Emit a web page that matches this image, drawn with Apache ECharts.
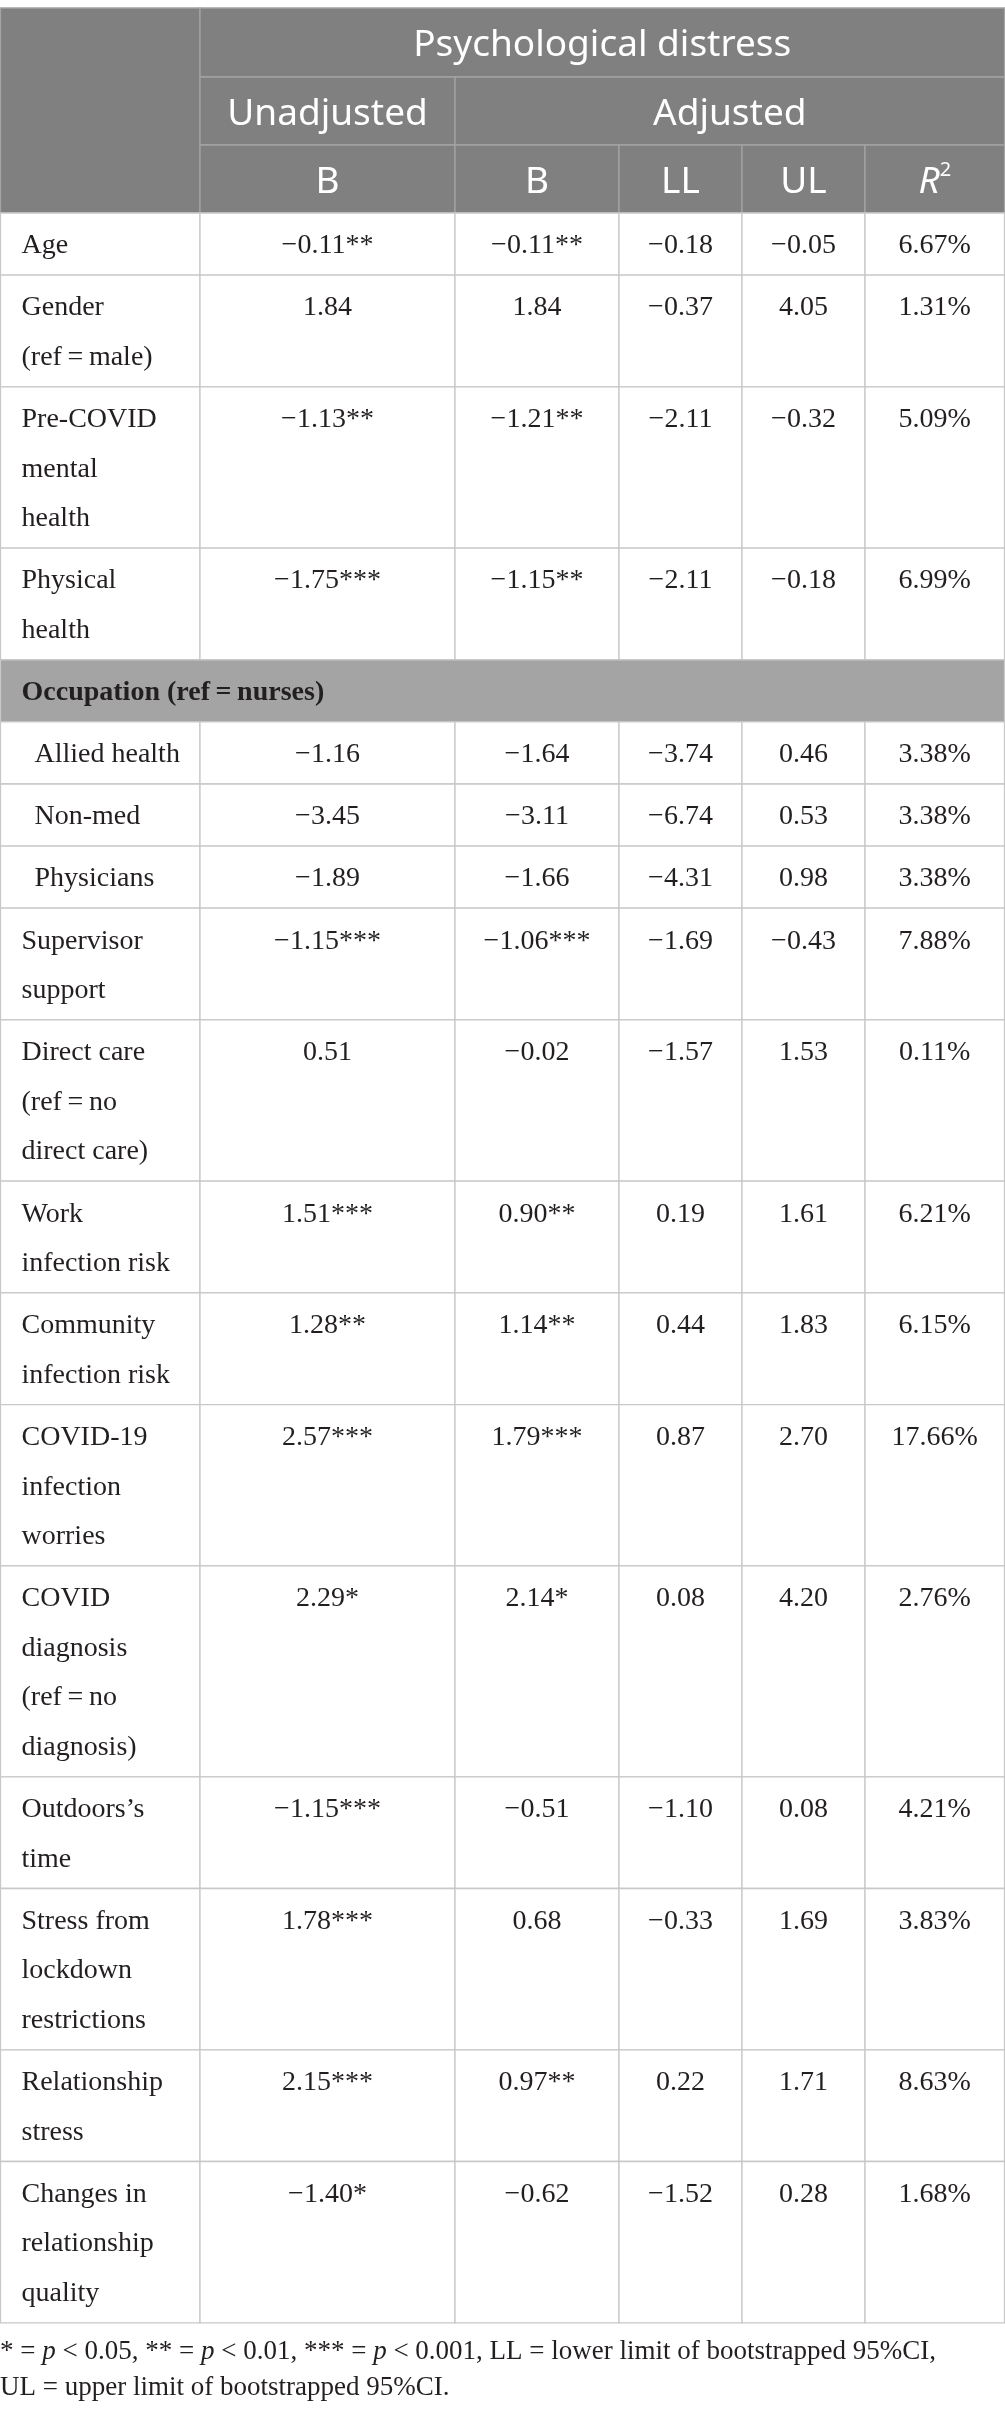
<!DOCTYPE html>
<html>
<head>
<meta charset="utf-8">
<script src="https://cdn.jsdelivr.net/npm/echarts@6/dist/echarts.min.js"></script>
<style>
html, body { margin: 0; padding: 0; background: #fff; }
#table { width: 1005px; height: 2417px; }
</style>
</head>
<body>
<div id="table"></div>
<script>
// ---- table content ----
var headTitle = 'Psychological distress';
var headGroups = ['Unadjusted', 'Adjusted'];
var headCols = ['B', 'B', 'LL', 'UL', '{it|R}{sup|2}'];

var rowLabels = [
    ['Age'],
    ['Gender', '(ref\u2009=\u2009male)'],
    ['Pre-COVID', 'mental', 'health'],
    ['Physical', 'health'],
    ['Occupation (ref\u2009=\u2009nurses)'],
    ['Allied health'],
    ['Non-med'],
    ['Physicians'],
    ['Supervisor', 'support'],
    ['Direct care', '(ref\u2009=\u2009no', 'direct care)'],
    ['Work', 'infection risk'],
    ['Community', 'infection risk'],
    ['COVID-19', 'infection', 'worries'],
    ['COVID', 'diagnosis', '(ref\u2009=\u2009no', 'diagnosis)'],
    ['Outdoors\u2019s', 'time'],
    ['Stress from', 'lockdown', 'restrictions'],
    ['Relationship', 'stress'],
    ['Changes in', 'relationship', 'quality']
];
// item / group / sub
var rowKind = ['item', 'item', 'item', 'item', 'group', 'sub', 'sub', 'sub',
    'item', 'item', 'item', 'item', 'item', 'item', 'item', 'item', 'item', 'item'];

var unadjB   = [-0.11, 1.84, -1.13, -1.75, null, -1.16, -3.45, -1.89, -1.15, 0.51, 1.51, 1.28, 2.57, 2.29, -1.15, 1.78, 2.15, -1.40];
var unadjSig = ['**', '', '**', '***', '', '', '', '', '***', '', '***', '**', '***', '*', '***', '***', '***', '*'];
var adjB     = [-0.11, 1.84, -1.21, -1.15, null, -1.64, -3.11, -1.66, -1.06, -0.02, 0.90, 1.14, 1.79, 2.14, -0.51, 0.68, 0.97, -0.62];
var adjSig   = ['**', '', '**', '**', '', '', '', '', '***', '', '**', '**', '***', '*', '', '', '**', ''];
var lowerCI  = [-0.18, -0.37, -2.11, -2.11, null, -3.74, -6.74, -4.31, -1.69, -1.57, 0.19, 0.44, 0.87, 0.08, -1.10, -0.33, 0.22, -1.52];
var upperCI  = [-0.05, 4.05, -0.32, -0.18, null, 0.46, 0.53, 0.98, -0.43, 1.53, 1.61, 1.83, 2.70, 4.20, 0.08, 1.69, 1.71, 0.28];
var rSquared = [6.67, 1.31, 5.09, 6.99, null, 3.38, 3.38, 3.38, 7.88, 0.11, 6.21, 6.15, 17.66, 2.76, 4.21, 3.83, 8.63, 1.68];

var footLines = [
    '* = {i|p} < 0.05, ** = {i|p} < 0.01, *** = {i|p} < 0.001, LL = lower limit of bootstrapped 95%CI,',
    'UL = upper limit of bootstrapped 95%CI.'
];

// ---- layout ----
var W = 1005, H = 2417;
var colEdges = [0.5, 200, 455, 619, 742, 865, 1004.5];
var tableTop = 8;
var headRowH = [69, 68, 68];
var headShift = 3;
var lineH = 49.6;
var rowPad = 12.5;
var textTop = 8.2;
var labelLeft = 21;
var subIndent = 34;

var headFill = '#7f807f', headLine = '#a3a3a3';
var groupFill = '#a3a4a3';
var bodyLine = '#c8c8c8';
var ink = '#231f20';
var sansFont = '"Noto Sans", "Open Sans", sans-serif';
var serifFont = '"Liberation Serif", "DejaVu Serif", serif';

function num(v) {
    return (v < 0 ? '\u2212' : '') + Math.abs(v).toFixed(2);
}

// build the cells
var cells = [];
var meta = [];
function addCell(c0, c1, y0, y1, m) {
    cells.push([colEdges[c0], y0, colEdges[c1], y1]);
    meta.push(m);
}

var hy = [tableTop];
headRowH.forEach(function (h, i) { hy.push(hy[i] + h); });
var headStyle = { fill: headFill, stroke: headLine, color: '#fff', font: sansFont, size: 37, align: 'center', valign: 'middle' };
function head(text) {
    return Object.assign({ text: text }, headStyle);
}
addCell(0, 1, hy[0], hy[3], head(''));
addCell(1, 6, hy[0], hy[1], head(headTitle));
addCell(1, 2, hy[1], hy[2], head(headGroups[0]));
addCell(2, 6, hy[1], hy[2], head(headGroups[1]));
headCols.forEach(function (t, i) {
    addCell(i + 1, i + 2, hy[2], hy[3], head(t));
});

var y = hy[3];
rowLabels.forEach(function (lines, r) {
    var h = lines.length * lineH + rowPad;
    var kind = rowKind[r];
    var body = { fill: '#fff', stroke: bodyLine, color: ink, font: serifFont, size: 28, valign: 'top' };
    if (kind === 'group') {
        addCell(0, 6, y, y + h, Object.assign({}, body, {
            fill: groupFill, text: lines.join('\n'), align: 'left',
            indent: labelLeft, weight: 'bold'
        }));
    } else {
        addCell(0, 1, y, y + h, Object.assign({}, body, {
            text: lines.join('\n'), align: 'left',
            indent: kind === 'sub' ? subIndent : labelLeft
        }));
        var vals = [
            num(unadjB[r]) + unadjSig[r],
            num(adjB[r]) + adjSig[r],
            num(lowerCI[r]),
            num(upperCI[r]),
            rSquared[r].toFixed(2) + '%'
        ];
        vals.forEach(function (t, i) {
            addCell(i + 1, i + 2, y, y + h, Object.assign({}, body, { text: t, align: 'center' }));
        });
    }
    y += h;
});

function renderCell(params, api) {
    var m = meta[params.dataIndex];
    var p0 = api.coord([api.value(0), api.value(1)]);
    var p1 = api.coord([api.value(2), api.value(3)]);
    var children = [{
        type: 'rect',
        shape: { x: p0[0], y: p0[1], width: p1[0] - p0[0], height: p1[1] - p0[1] },
        style: { fill: m.fill, stroke: m.stroke, lineWidth: 1.3 }
    }];
    if (m.text) {
        var tx = m.align === 'left' ? p0[0] + m.indent : (p0[0] + p1[0]) / 2;
        var ty = m.valign === 'top' ? p0[1] + textTop : (p0[1] + p1[1]) / 2 + headShift;
        children.push({
            type: 'text',
            x: tx,
            y: ty,
            style: {
                text: m.text,
                fill: m.color,
                fontFamily: m.font,
                fontSize: m.size,
                fontWeight: m.weight || 'normal',
                align: m.align,
                verticalAlign: m.valign,
                lineHeight: m.valign === 'top' ? lineH : m.size * 1.2,
                rich: {
                    it: { fontStyle: 'italic', fontFamily: m.font, fontSize: m.size, fill: m.color, lineHeight: m.size * 1.2 },
                    sup: { fontFamily: m.font, fontSize: 20, fill: m.color, verticalAlign: 'top', lineHeight: m.size * 1.2 }
                }
            }
        });
    }
    return { type: 'group', children: children };
}

var chart = echarts.init(document.getElementById('table'));
var option = {
    animation: false,
    grid: { left: 0, right: 0, top: 0, bottom: 0 },
    xAxis: { type: 'value', min: 0, max: W, show: false },
    yAxis: { type: 'value', min: 0, max: H, inverse: true, show: false },
    series: [{
        type: 'custom',
        renderItem: renderCell,
        encode: { x: [0, 2], y: [1, 3] },
        clip: false,
        data: cells
    }],
    graphic: [{
        type: 'text',
        left: 0,
        top: y + 11,
        style: {
            text: footLines.join('\n'),
            fill: ink,
            fontFamily: serifFont,
            fontSize: 27,
            lineHeight: 36,
            rich: {
                i: { fontStyle: 'italic', fontFamily: serifFont, fontSize: 27, fill: ink, lineHeight: 36 }
            }
        }
    }]
};
chart.setOption(option);
</script>
</body>
</html>
